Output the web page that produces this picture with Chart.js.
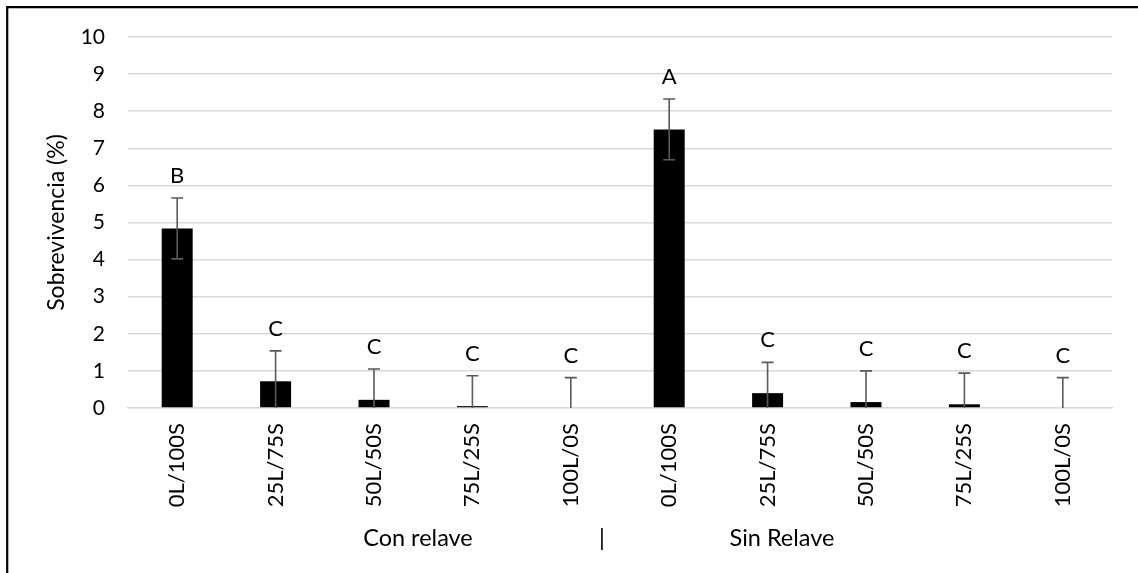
<!DOCTYPE html>
<html>
<head>
<meta charset="utf-8">
<script src="https://cdn.jsdelivr.net/npm/chart.js@4/dist/chart.umd.min.js"></script>
<style>
  html,body{margin:0;padding:0;background:#fff;}
  #wrap{position:relative;width:1138px;height:573px;}
</style>
</head>
<body>
<div id="wrap"><canvas id="c" width="1138" height="573"></canvas></div>
<script>
// data
const labels = ['0L/100S','25L/75S','50L/50S','75L/25S','100L/0S','0L/100S','25L/75S','50L/50S','75L/25S','100L/0S'];
const values = [4.84, 0.72, 0.22, 0.05, 0, 7.51, 0.40, 0.16, 0.10, 0];
const errors = [0.82, 0.82, 0.83, 0.82, 0.82, 0.82, 0.83, 0.84, 0.84, 0.82];
const letters = ['B','C','C','C','C','A','C','C','C','C'];
const groups = ['Con relave', '|', 'Sin Relave'];

const FONT = 'Lato, "Open Sans", sans-serif';

// frame (top/left border of the original figure)
const framePlugin = {
  id:'frame',
  beforeDraw(chart){
    const ctx = chart.ctx;
    ctx.save();
    ctx.strokeStyle = '#000'; ctx.lineWidth = 2.2;
    ctx.beginPath();
    ctx.moveTo(7.2, chart.height); ctx.lineTo(7.2, 7.2); ctx.lineTo(chart.width, 7.2);
    ctx.stroke();
    ctx.restore();
  }
};

// error bars + significance letters
const errPlugin = {
  id:'errbars',
  afterDatasetsDraw(chart){
    const ctx = chart.ctx, y = chart.scales.y, a = chart.chartArea;
    const meta = chart.getDatasetMeta(0);
    ctx.save();
    meta.data.forEach((bar,i)=>{
      const v = values[i], e = errors[i];
      const x = bar.x;
      const yTop = y.getPixelForValue(v+e);
      const lo = v-e;
      const yBot = y.getPixelForValue(Math.max(lo,0));
      ctx.strokeStyle = '#5a5a5a'; ctx.lineWidth = 1.6;
      ctx.beginPath();
      ctx.moveTo(x, yTop); ctx.lineTo(x, yBot);
      ctx.moveTo(x-6, yTop); ctx.lineTo(x+6, yTop);
      if (lo >= 0){ ctx.moveTo(x-6, yBot); ctx.lineTo(x+6, yBot); }
      ctx.stroke();
      ctx.fillStyle = '#000';
      ctx.font = '22px '+FONT;
      ctx.textAlign = 'center'; ctx.textBaseline = 'alphabetic';
      ctx.fillText(letters[i], x, yTop-15);
    });
    // group titles below the axis
    const w = a.right - a.left;
    const fr = [0.2947, 0.4817, 0.6646];
    ctx.font = '23.5px '+FONT; ctx.fillStyle = '#000'; ctx.textAlign = 'center';
    groups.forEach((g,k)=>ctx.fillText(g, a.left + fr[k]*w, 546));
    ctx.restore();
  }
};

new Chart(document.getElementById('c'), {
  type:'bar',
  data:{ labels: labels, datasets:[{ data: values, backgroundColor:'#000', borderWidth:0,
    categoryPercentage:1, barPercentage:0.315 }] },
  options:{
    responsive:false, animation:false,
    layout:{ padding:{ left:0, top:37, right:26, bottom:0 } },
    plugins:{ legend:{display:false}, tooltip:{enabled:false} },
    scales:{
      x:{
        grid:{ display:false, drawTicks:false },
        border:{ color:'#d9d9d9', width:1.5 },
        ticks:{ color:'#000', font:{ family:FONT, size:22 }, minRotation:90, maxRotation:90, padding:15, autoSkip:false },
        afterFit(s){ s.height = 165; }
      },
      y:{
        min:0, max:10,
        grid:{ color:'#d9d9d9', lineWidth:1.5, drawTicks:false },
        border:{ display:false },
        ticks:{ stepSize:1, color:'#000', font:{ family:FONT, size:21 }, padding:23 },
        title:{ display:true, text:'Sobrevivencia (%)', color:'#000', font:{ family:FONT, size:23 }, padding:{ top:43, bottom:0 } },
        afterFit(s){ s.width = 128; }
      }
    }
  },
  plugins:[framePlugin, errPlugin]
});
</script>
</body>
</html>
